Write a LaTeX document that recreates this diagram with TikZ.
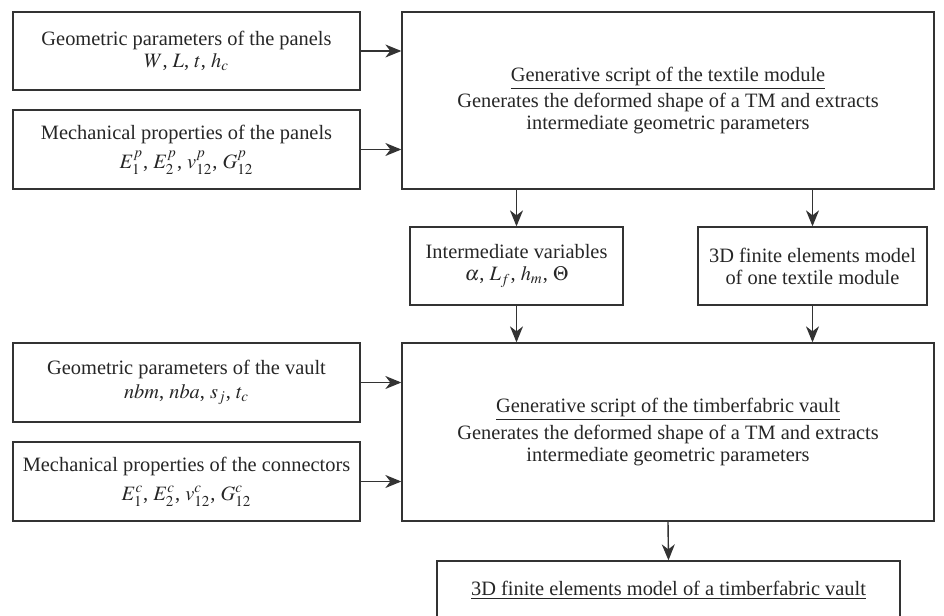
\documentclass[tikz,border=0pt]{standalone}
\usepackage{mathptmx}
\usepackage{fontspec}
\setmainfont{Liberation Serif}
\usetikzlibrary{arrows.meta}

\begin{document}
\begin{tikzpicture}[x=0.5pt,y=-0.5pt,>={Stealth[length=8pt,width=6.5pt,inset=2.5pt]},
box/.style={draw=black!80,line width=0.65pt,align=center,inner sep=2pt,
  text=black!85,font=\fontsize{10.2}{11}\selectfont},
every edge/.style={draw=black!80,line width=0.7pt}]
\useasboundingbox (0,0) rectangle (944,616);
% inputs of the textile module
\node[box,minimum width=173.5pt,minimum height=39pt](geopan) at (186.5,51)
  {Geometric parameters of the panels\\ $W$, $L$, $t$, $h_c$};
\node[box,minimum width=173.5pt,minimum height=39.5pt](mecpan) at (186.5,149.5)
  {Mechanical properties of the panels\\[3.5pt] $E_1^p$, $E_2^p$, $v_{12}^p$, $G_{12}^p$};
\node[box,minimum width=266pt,minimum height=88.5pt](genmod) at (668,100.5)
  {\underline{Generative script of the textile module}\\[1pt]
   Generates the deformed shape of a TM and extracts\\
   intermediate geometric parameters};
% outputs of the textile module
\node[box,minimum width=106.5pt,minimum height=39pt](inter) at (516.5,266)
  {Intermediate variables\\ $\alpha$, $L_f$, $h_m$, $\Theta$};
\node[box,minimum width=114.5pt,minimum height=39pt](femmod) at (812.5,266)
  {3D finite elements model\\ of one textile module};
% inputs of the vault
\node[box,minimum width=173.5pt,minimum height=39.5pt](geovault) at (186.5,382.5)
  {Geometric parameters of the vault\\[1pt] $nbm$, $nba$, $s_j$, $t_c$};
\node[box,minimum width=173.5pt,minimum height=39.5pt](mecconn) at (186.5,481.5)
  {Mechanical properties of the connectors\\[3.5pt] $E_1^c$, $E_2^c$, $v_{12}^c$, $G_{12}^c$};
\node[box,minimum width=266pt,minimum height=89pt](genvault) at (668,432)
  {\underline{Generative script of the timberfabric vault}\\[1pt]
   Generates the deformed shape of a TM and extracts\\
   intermediate geometric parameters};
\node[box,minimum width=231.5pt,minimum height=29.5pt](femvault) at (668.5,590.5)
  {\underline{3D finite elements model of a timberfabric vault}};

\path[->](geopan.east) edge (geopan.east -| genmod.west);
\path[->](mecpan.east) edge (mecpan.east -| genmod.west);
\path[->](inter.north |- genmod.south) edge (inter.north);
\path[->](femmod.north |- genmod.south) edge (femmod.north);
\path[->](inter.south) edge (inter.south |- genvault.north);
\path[->](femmod.south) edge (femmod.south |- genvault.north);
\path[->](geovault.east) edge (geovault.east -| genvault.west);
\path[->](mecconn.east) edge (mecconn.east -| genvault.west);
\path[->](genvault.south) edge (femvault.north);
\end{tikzpicture}
\end{document}
